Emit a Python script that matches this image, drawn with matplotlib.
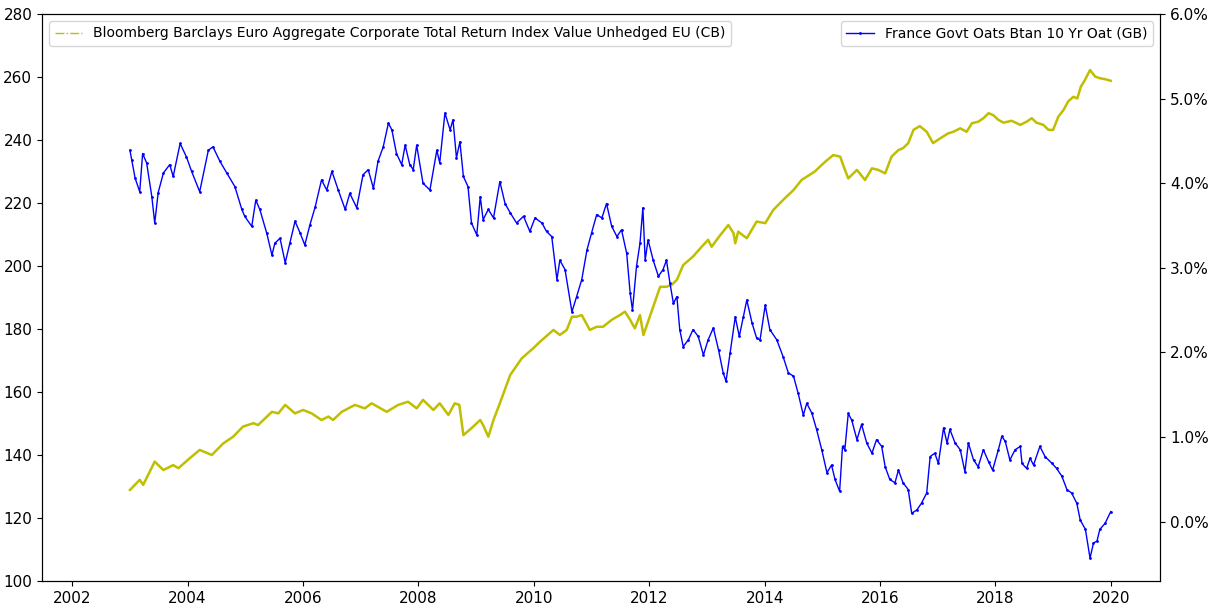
import matplotlib
matplotlib.use('Agg')
import matplotlib.pyplot as plt
import matplotlib.dates as mdates
from matplotlib.lines import Line2D
from matplotlib.ticker import FuncFormatter
from datetime import datetime, timedelta

# corporate index (left axis), decimal years + index level
cb_years = [2003.00, 2003.17, 2003.23, 2003.43, 2003.58, 2003.75, 2003.84, 2004.04, 2004.21, 2004.42,
            2004.62, 2004.79, 2004.96, 2005.14, 2005.22, 2005.46, 2005.57, 2005.69, 2005.86, 2006.00,
            2006.15, 2006.32, 2006.44, 2006.52, 2006.67, 2006.90, 2007.07, 2007.19, 2007.45, 2007.65,
            2007.82, 2007.97, 2008.08, 2008.26, 2008.37, 2008.52, 2008.63, 2008.71, 2008.78, 2008.92,
            2009.07, 2009.12, 2009.21, 2009.30, 2009.41, 2009.59, 2009.79, 2009.99, 2010.11, 2010.34,
            2010.45, 2010.57, 2010.66, 2010.74, 2010.83, 2010.97, 2011.09, 2011.20, 2011.35, 2011.49,
            2011.58, 2011.67, 2011.75, 2011.84, 2011.90, 2012.01, 2012.13, 2012.19, 2012.30, 2012.39,
            2012.48, 2012.59, 2012.76, 2012.91, 2013.02, 2013.08, 2013.23, 2013.37, 2013.46, 2013.49,
            2013.54, 2013.69, 2013.86, 2014.01, 2014.15, 2014.35, 2014.50, 2014.64, 2014.87, 2015.05,
            2015.19, 2015.31, 2015.36, 2015.45, 2015.60, 2015.74, 2015.86, 2015.97, 2016.09, 2016.20,
            2016.32, 2016.40, 2016.49, 2016.58, 2016.69, 2016.81, 2016.92, 2017.04, 2017.18, 2017.27,
            2017.39, 2017.50, 2017.59, 2017.70, 2017.79, 2017.88, 2017.96, 2018.05, 2018.14, 2018.28,
            2018.43, 2018.54, 2018.63, 2018.71, 2018.83, 2018.92, 2019.00, 2019.09, 2019.18, 2019.26,
            2019.35, 2019.42, 2019.48, 2019.55, 2019.64, 2019.73, 2019.81, 2019.90, 2020.00]
cb_vals = [128.9, 132.1, 130.5, 137.9, 135.2, 136.8, 135.8, 139.0, 141.6, 140.0,
           143.7, 145.8, 149.0, 150.1, 149.5, 153.7, 153.2, 155.9, 153.2, 154.3,
           153.2, 151.1, 152.2, 151.1, 153.7, 155.9, 154.8, 156.4, 153.7, 155.9,
           156.9, 154.8, 157.5, 154.3, 156.4, 152.7, 156.4, 155.9, 146.3, 148.5,
           151.1, 149.5, 145.8, 151.1, 156.4, 165.4, 170.7, 173.9, 176.0, 179.7,
           178.1, 179.7, 183.9, 183.9, 184.4, 179.7, 180.7, 180.7, 182.9, 184.4,
           185.5, 182.9, 180.2, 184.4, 178.1, 183.9, 190.3, 193.4, 193.4, 194.0,
           195.6, 200.3, 203.0, 206.1, 208.3, 206.1, 209.8, 213.0, 210.4, 207.2,
           210.9, 208.8, 214.1, 213.6, 217.8, 221.5, 224.1, 227.3, 230.0, 233.1,
           235.2, 234.7, 232.1, 227.8, 230.5, 227.3, 231.0, 230.5, 229.4, 234.7,
           236.8, 237.4, 239.0, 243.2, 244.4, 242.6, 239.0, 240.5, 242.1, 242.6,
           243.7, 242.6, 245.3, 245.8, 246.9, 248.5, 247.9, 246.4, 245.5, 246.1,
           244.8, 245.8, 246.9, 245.5, 244.8, 243.2, 243.2, 247.4, 249.5, 252.2,
           253.7, 253.2, 256.9, 259.0, 262.2, 260.1, 259.6, 259.3, 258.8]

# 10y OAT yield (right axis), in percent
gb_years = [2003.00, 2003.03, 2003.09, 2003.17, 2003.22, 2003.29, 2003.38, 2003.43, 2003.49, 2003.58,
            2003.69, 2003.75, 2003.87, 2003.98, 2004.07, 2004.21, 2004.36, 2004.44, 2004.56, 2004.68,
            2004.82, 2004.94, 2004.99, 2005.11, 2005.18, 2005.25, 2005.37, 2005.46, 2005.51, 2005.60,
            2005.69, 2005.77, 2005.86, 2005.95, 2006.03, 2006.12, 2006.21, 2006.32, 2006.41, 2006.50,
            2006.61, 2006.73, 2006.81, 2006.93, 2007.04, 2007.13, 2007.22, 2007.30, 2007.39, 2007.48,
            2007.54, 2007.62, 2007.71, 2007.77, 2007.85, 2007.91, 2007.97, 2008.08, 2008.20, 2008.32,
            2008.37, 2008.46, 2008.55, 2008.60, 2008.66, 2008.72, 2008.78, 2008.86, 2008.92, 2009.01,
            2009.07, 2009.12, 2009.21, 2009.30, 2009.41, 2009.50, 2009.59, 2009.70, 2009.82, 2009.93,
            2010.02, 2010.14, 2010.22, 2010.31, 2010.40, 2010.45, 2010.54, 2010.66, 2010.74, 2010.83,
            2010.92, 2011.00, 2011.09, 2011.18, 2011.26, 2011.35, 2011.44, 2011.52, 2011.61, 2011.67,
            2011.71, 2011.78, 2011.84, 2011.89, 2011.93, 2011.98, 2012.07, 2012.16, 2012.24, 2012.30,
            2012.36, 2012.42, 2012.48, 2012.53, 2012.59, 2012.68, 2012.76, 2012.85, 2012.94, 2013.02,
            2013.11, 2013.20, 2013.28, 2013.33, 2013.40, 2013.49, 2013.56, 2013.63, 2013.69, 2013.78,
            2013.86, 2013.92, 2014.01, 2014.09, 2014.21, 2014.32, 2014.41, 2014.50, 2014.58, 2014.67,
            2014.73, 2014.82, 2014.90, 2014.99, 2015.08, 2015.16, 2015.22, 2015.30, 2015.35, 2015.39,
            2015.45, 2015.51, 2015.60, 2015.68, 2015.77, 2015.86, 2015.94, 2016.03, 2016.09, 2016.17,
            2016.26, 2016.32, 2016.40, 2016.49, 2016.55, 2016.64, 2016.72, 2016.81, 2016.87, 2016.95,
            2017.01, 2017.10, 2017.16, 2017.21, 2017.30, 2017.39, 2017.47, 2017.53, 2017.62, 2017.70,
            2017.79, 2017.88, 2017.95, 2018.05, 2018.11, 2018.17, 2018.25, 2018.34, 2018.43, 2018.46,
            2018.54, 2018.60, 2018.66, 2018.77, 2018.86, 2018.98, 2019.06, 2019.15, 2019.24, 2019.32,
            2019.41, 2019.47, 2019.56, 2019.64, 2019.70, 2019.76, 2019.81, 2019.90, 2020.00]
gb_vals = [4.39, 4.28, 4.06, 3.90, 4.35, 4.24, 3.84, 3.53, 3.89, 4.12,
           4.22, 4.08, 4.47, 4.31, 4.14, 3.90, 4.39, 4.43, 4.26, 4.12,
           3.96, 3.69, 3.61, 3.49, 3.80, 3.69, 3.41, 3.15, 3.29, 3.35,
           3.06, 3.29, 3.55, 3.41, 3.27, 3.51, 3.72, 4.04, 3.92, 4.14,
           3.92, 3.69, 3.88, 3.71, 4.10, 4.16, 3.94, 4.26, 4.43, 4.71,
           4.63, 4.35, 4.22, 4.45, 4.22, 4.16, 4.45, 4.00, 3.92, 4.39,
           4.24, 4.83, 4.63, 4.75, 4.30, 4.49, 4.08, 3.96, 3.53, 3.39,
           3.84, 3.57, 3.69, 3.59, 4.02, 3.76, 3.65, 3.53, 3.61, 3.43,
           3.59, 3.53, 3.43, 3.37, 2.86, 3.09, 2.98, 2.48, 2.66, 2.86,
           3.21, 3.41, 3.63, 3.59, 3.76, 3.49, 3.37, 3.45, 3.17, 2.70,
           2.50, 3.02, 3.29, 3.71, 3.09, 3.33, 3.09, 2.90, 2.98, 3.09,
           2.82, 2.58, 2.66, 2.27, 2.07, 2.15, 2.27, 2.19, 1.97, 2.15,
           2.29, 2.03, 1.76, 1.66, 1.99, 2.42, 2.19, 2.42, 2.62, 2.35,
           2.17, 2.15, 2.56, 2.27, 2.15, 1.95, 1.76, 1.72, 1.52, 1.26,
           1.40, 1.28, 1.09, 0.85, 0.58, 0.67, 0.50, 0.36, 0.89, 0.85,
           1.28, 1.20, 0.97, 1.15, 0.93, 0.81, 0.97, 0.89, 0.65, 0.50,
           0.46, 0.61, 0.46, 0.38, 0.10, 0.14, 0.22, 0.34, 0.77, 0.81,
           0.69, 1.11, 0.93, 1.09, 0.93, 0.85, 0.59, 0.93, 0.73, 0.65,
           0.85, 0.71, 0.61, 0.85, 1.01, 0.95, 0.73, 0.85, 0.89, 0.69,
           0.63, 0.75, 0.67, 0.89, 0.77, 0.69, 0.63, 0.54, 0.38, 0.34,
           0.22, 0.02, -0.09, -0.43, -0.25, -0.23, -0.09, -0.02, 0.12]

cb_label = 'Bloomberg Barclays Euro Aggregate Corporate Total Return Index Value Unhedged EU (CB)'
gb_label = 'France Govt Oats Btan 10 Yr Oat (GB)'


def to_date(y):
    yr = int(y)
    return datetime(yr, 1, 1) + timedelta(days=(y - yr) * 365.25)


cb_dates = [to_date(y) for y in cb_years]
gb_dates = [to_date(y) for y in gb_years]

fig = plt.figure(figsize=(12.14, 6.05), dpi=100)
ax = fig.add_axes([0.0346, 0.0397, 0.921, 0.9372])
ax2 = ax.twinx()

ax.plot(cb_dates, cb_vals, color='y', lw=1.8)
ax2.plot(gb_dates, gb_vals, color='b', lw=1.0, marker='.', markersize=2)

ax.set_ylim(100, 280)
ax2.set_ylim(-0.7, 6.0)
ax.set_xlim(to_date(2001.475), to_date(2020.855))
ax.xaxis.set_major_locator(mdates.YearLocator(2))
ax.xaxis.set_major_formatter(mdates.DateFormatter('%Y'))
ax2.yaxis.set_major_formatter(FuncFormatter(lambda v, p: '{:.1f}%'.format(v)))

ax.tick_params(labelsize=11)
ax2.tick_params(labelsize=11)

h1 = Line2D([], [], color='y', lw=1, ls='-.')
h2 = Line2D([], [], color='b', lw=1, marker='.', markersize=2)
ax.legend([h1], [cb_label], loc='upper left', fontsize=10)
ax2.legend([h2], [gb_label], loc='upper right', fontsize=10)

plt.savefig('out.png')
